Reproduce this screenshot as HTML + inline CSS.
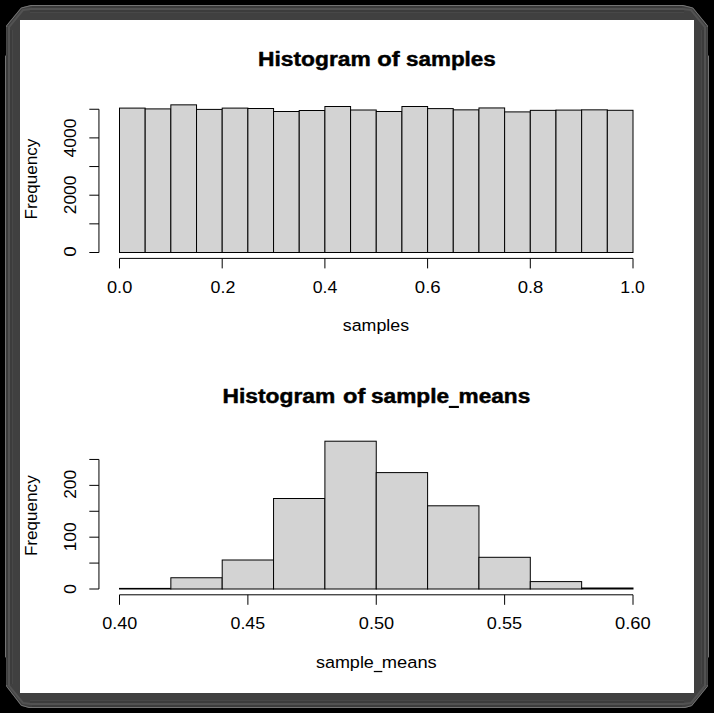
<!DOCTYPE html>
<html><head><meta charset="utf-8"><title>Histograms</title>
<style>html,body{margin:0;padding:0;background:#000;}body{width:714px;height:713px;overflow:hidden;font-family:"Liberation Sans",sans-serif;}</style></head>
<body>
<svg width="714" height="713" viewBox="0 0 714 713" style="display:block" font-family="'Liberation Sans', sans-serif" fill="#000">
<rect width="714" height="713" fill="#000"/>
<path d="M5,56 L6.2,55 L6.2,25.5 L21,7.5 L31,5 L683,5 L693,7.5 L707.8,25.5 L707.8,55 L709,56 L709,657 L707.8,658 L707.8,686.5 L692,706 L685,708 L29,708 L21,705.8 L6.2,686.5 L6.2,658 L5,657 Z" fill="#404040"/>
<path d="M5.5,56 L6.7,55 L6.7,25.7 L21.3,8 L31,5.5 L683,5.5 L692.8,8 L707.3,25.7 L707.3,55 L708.5,56 L708.5,657 L707.3,658 L707.3,686.3 L691.7,705.6 L685,707.5 L29,707.5 L21.3,705.3 L6.7,686.3 L6.7,658 L5.5,657 Z" fill="none" stroke="#747474" stroke-width="1"/>
<path d="M9,56 L9,27 L23,10 L31,9 L683,9 L691,10 L705,27 L705,686 L691,703 L683,704 L31,704 L23,703 L9,686 Z" fill="none" stroke="#525252" stroke-width="2"/>
<path d="M12.5,30 L12.5,684 M701.5,30 L701.5,684 M30,12.5 L684,12.5 M30,700.5 L684,700.5" fill="none" stroke="#484848" stroke-width="1"/>
<path d="M7,57 L7,27 M11,30 L11,684 M707,57 L707,27 M703,30 L703,684 M32,6.8 L682,6.8 M30,11 L684,11 M30,702 L684,702 M32,706.3 L682,706.3 M7,657 L7,685 M707,657 L707,685 M7,57 L7,657 M707,57 L707,657" fill="none" stroke="#3b3b3b" stroke-width="1.4"/>
<rect x="20" y="20" width="674" height="673" fill="#ffffff"/>
<rect x="119.50" y="108.10" width="25.68" height="144.40" fill="#d3d3d3" stroke="#000" stroke-width="1"/>
<rect x="145.18" y="108.90" width="25.67" height="143.60" fill="#d3d3d3" stroke="#000" stroke-width="1"/>
<rect x="170.85" y="104.85" width="25.68" height="147.65" fill="#d3d3d3" stroke="#000" stroke-width="1"/>
<rect x="196.53" y="109.40" width="25.67" height="143.10" fill="#d3d3d3" stroke="#000" stroke-width="1"/>
<rect x="222.20" y="108.10" width="25.68" height="144.40" fill="#d3d3d3" stroke="#000" stroke-width="1"/>
<rect x="247.88" y="108.50" width="25.68" height="144.00" fill="#d3d3d3" stroke="#000" stroke-width="1"/>
<rect x="273.55" y="111.50" width="25.68" height="141.00" fill="#d3d3d3" stroke="#000" stroke-width="1"/>
<rect x="299.23" y="110.50" width="25.67" height="142.00" fill="#d3d3d3" stroke="#000" stroke-width="1"/>
<rect x="324.90" y="106.50" width="25.68" height="146.00" fill="#d3d3d3" stroke="#000" stroke-width="1"/>
<rect x="350.57" y="110.00" width="25.68" height="142.50" fill="#d3d3d3" stroke="#000" stroke-width="1"/>
<rect x="376.25" y="111.50" width="25.68" height="141.00" fill="#d3d3d3" stroke="#000" stroke-width="1"/>
<rect x="401.93" y="106.50" width="25.68" height="146.00" fill="#d3d3d3" stroke="#000" stroke-width="1"/>
<rect x="427.60" y="108.60" width="25.67" height="143.90" fill="#d3d3d3" stroke="#000" stroke-width="1"/>
<rect x="453.27" y="109.85" width="25.68" height="142.65" fill="#d3d3d3" stroke="#000" stroke-width="1"/>
<rect x="478.95" y="107.95" width="25.68" height="144.55" fill="#d3d3d3" stroke="#000" stroke-width="1"/>
<rect x="504.62" y="111.90" width="25.67" height="140.60" fill="#d3d3d3" stroke="#000" stroke-width="1"/>
<rect x="530.30" y="110.35" width="25.68" height="142.15" fill="#d3d3d3" stroke="#000" stroke-width="1"/>
<rect x="555.98" y="110.10" width="25.67" height="142.40" fill="#d3d3d3" stroke="#000" stroke-width="1"/>
<rect x="581.65" y="109.85" width="25.68" height="142.65" fill="#d3d3d3" stroke="#000" stroke-width="1"/>
<rect x="607.33" y="110.30" width="25.67" height="142.20" fill="#d3d3d3" stroke="#000" stroke-width="1"/>
<path d="M119.5,258.4 L633.0,258.4 M119.50,258.4 L119.50,268.40 M222.20,258.4 L222.20,268.40 M324.90,258.4 L324.90,268.40 M427.60,258.4 L427.60,268.40 M530.30,258.4 L530.30,268.40 M633.00,258.4 L633.00,268.40 M98.95,252.50 L98.95,109.25 M98.95,252.50 L89.32,252.50 M98.95,223.85 L89.32,223.85 M98.95,195.20 L89.32,195.20 M98.95,166.55 L89.32,166.55 M98.95,137.90 L89.32,137.90 M98.95,109.25 L89.32,109.25 " fill="none" stroke="#000" stroke-width="1" stroke-linecap="butt"/>
<rect x="119.50" y="588.40" width="51.35" height="0.60" fill="#d3d3d3" stroke="#000" stroke-width="1"/>
<rect x="170.85" y="577.75" width="51.35" height="11.25" fill="#d3d3d3" stroke="#000" stroke-width="1"/>
<rect x="222.20" y="560.00" width="51.35" height="29.00" fill="#d3d3d3" stroke="#000" stroke-width="1"/>
<rect x="273.55" y="498.50" width="51.35" height="90.50" fill="#d3d3d3" stroke="#000" stroke-width="1"/>
<rect x="324.90" y="441.20" width="51.35" height="147.80" fill="#d3d3d3" stroke="#000" stroke-width="1"/>
<rect x="376.25" y="472.60" width="51.35" height="116.40" fill="#d3d3d3" stroke="#000" stroke-width="1"/>
<rect x="427.60" y="505.80" width="51.35" height="83.20" fill="#d3d3d3" stroke="#000" stroke-width="1"/>
<rect x="478.95" y="557.30" width="51.35" height="31.70" fill="#d3d3d3" stroke="#000" stroke-width="1"/>
<rect x="530.30" y="581.60" width="51.35" height="7.40" fill="#d3d3d3" stroke="#000" stroke-width="1"/>
<rect x="581.65" y="588.00" width="51.35" height="1.00" fill="#d3d3d3" stroke="#000" stroke-width="1"/>
<path d="M119.5,594.8 L633.0,594.8 M119.50,594.8 L119.50,604.80 M247.88,594.8 L247.88,604.80 M376.25,594.8 L376.25,604.80 M504.62,594.8 L504.62,604.80 M633.00,594.8 L633.00,604.80 M98.95,589.00 L98.95,459.45 M98.95,589.00 L89.32,589.00 M98.95,563.09 L89.32,563.09 M98.95,537.18 L89.32,537.18 M98.95,511.27 L89.32,511.27 M98.95,485.36 L89.32,485.36 M98.95,459.45 L89.32,459.45 " fill="none" stroke="#000" stroke-width="1" stroke-linecap="butt"/>
<text stroke="#000" stroke-width="0.45" stroke-linejoin="round" x="257.98" y="66.00" font-size="19.6" font-weight="bold" textLength="112.74" lengthAdjust="spacingAndGlyphs">Histogram</text>
<text stroke="#000" stroke-width="0.45" stroke-linejoin="round" x="377.37" y="66.00" font-size="19.6" font-weight="bold" textLength="22.38" lengthAdjust="spacingAndGlyphs">of</text>
<text stroke="#000" stroke-width="0.45" stroke-linejoin="round" x="406.01" y="66.00" font-size="19.6" font-weight="bold" textLength="89.81" lengthAdjust="spacingAndGlyphs">samples</text>
<text x="106.99" y="292.70" font-size="16.3" font-weight="normal" textLength="25.32" lengthAdjust="spacingAndGlyphs">0.0</text>
<text x="210.60" y="292.70" font-size="16.3" font-weight="normal" textLength="24.79" lengthAdjust="spacingAndGlyphs">0.2</text>
<text x="312.71" y="292.70" font-size="16.3" font-weight="normal" textLength="24.61" lengthAdjust="spacingAndGlyphs">0.4</text>
<text x="414.87" y="292.70" font-size="16.3" font-weight="normal" textLength="25.84" lengthAdjust="spacingAndGlyphs">0.6</text>
<text x="517.68" y="292.70" font-size="16.3" font-weight="normal" textLength="25.73" lengthAdjust="spacingAndGlyphs">0.8</text>
<text x="620.36" y="292.70" font-size="16.3" font-weight="normal" textLength="24.53" lengthAdjust="spacingAndGlyphs">1.0</text>
<text x="342.80" y="330.90" font-size="16.8" font-weight="normal" textLength="66.24" lengthAdjust="spacingAndGlyphs">samples</text>
<text transform="translate(37.00,219.51) rotate(-90)" font-size="16.6" font-weight="normal" textLength="80.94" lengthAdjust="spacingAndGlyphs">Frequency</text>
<text transform="translate(76.10,256.74) rotate(-90)" font-size="16.3" font-weight="normal" textLength="10.47" lengthAdjust="spacingAndGlyphs">0</text>
<text transform="translate(76.10,214.27) rotate(-90)" font-size="16.3" font-weight="normal" textLength="38.65" lengthAdjust="spacingAndGlyphs">2000</text>
<text transform="translate(76.10,157.60) rotate(-90)" font-size="16.3" font-weight="normal" textLength="39.19" lengthAdjust="spacingAndGlyphs">4000</text>
<text stroke="#000" stroke-width="0.45" stroke-linejoin="round" x="222.47" y="402.80" font-size="19.6" font-weight="bold" textLength="112.74" lengthAdjust="spacingAndGlyphs">Histogram</text>
<text stroke="#000" stroke-width="0.45" stroke-linejoin="round" x="343.08" y="402.80" font-size="19.6" font-weight="bold" textLength="22.28" lengthAdjust="spacingAndGlyphs">of</text>
<text stroke="#000" stroke-width="0.45" stroke-linejoin="round" x="371.00" y="402.80" font-size="19.6" font-weight="bold" textLength="78.07" lengthAdjust="spacingAndGlyphs">sample</text>
<text stroke="#000" stroke-width="0.45" stroke-linejoin="round" x="458.61" y="402.80" font-size="19.6" font-weight="bold" textLength="71.62" lengthAdjust="spacingAndGlyphs">means</text>
<text x="102.30" y="628.90" font-size="16.3" font-weight="normal" textLength="35.01" lengthAdjust="spacingAndGlyphs">0.40</text>
<text x="230.50" y="628.90" font-size="16.3" font-weight="normal" textLength="34.64" lengthAdjust="spacingAndGlyphs">0.45</text>
<text x="358.89" y="628.90" font-size="16.3" font-weight="normal" textLength="35.32" lengthAdjust="spacingAndGlyphs">0.50</text>
<text x="486.89" y="628.90" font-size="16.3" font-weight="normal" textLength="35.27" lengthAdjust="spacingAndGlyphs">0.55</text>
<text x="614.98" y="628.90" font-size="16.3" font-weight="normal" textLength="35.73" lengthAdjust="spacingAndGlyphs">0.60</text>
<text x="315.90" y="667.60" font-size="16.8" font-weight="normal" textLength="58.00" lengthAdjust="spacingAndGlyphs">sample</text>
<text x="381.78" y="667.60" font-size="16.8" font-weight="normal" textLength="54.98" lengthAdjust="spacingAndGlyphs">means</text>
<text transform="translate(36.90,556.10) rotate(-90)" font-size="16.6" font-weight="normal" textLength="80.84" lengthAdjust="spacingAndGlyphs">Frequency</text>
<text transform="translate(75.90,594.00) rotate(-90)" font-size="16.3" font-weight="normal" textLength="10.01" lengthAdjust="spacingAndGlyphs">0</text>
<text transform="translate(75.90,551.32) rotate(-90)" font-size="16.3" font-weight="normal" textLength="29.00" lengthAdjust="spacingAndGlyphs">100</text>
<text transform="translate(75.90,498.87) rotate(-90)" font-size="16.3" font-weight="normal" textLength="28.95" lengthAdjust="spacingAndGlyphs">200</text>
<rect x="448.8" y="405.9" width="10.1" height="2.1" fill="#000"/>
<rect x="373.8" y="670.9" width="8.5" height="1.25" fill="#000"/>
</svg>
</body></html>
